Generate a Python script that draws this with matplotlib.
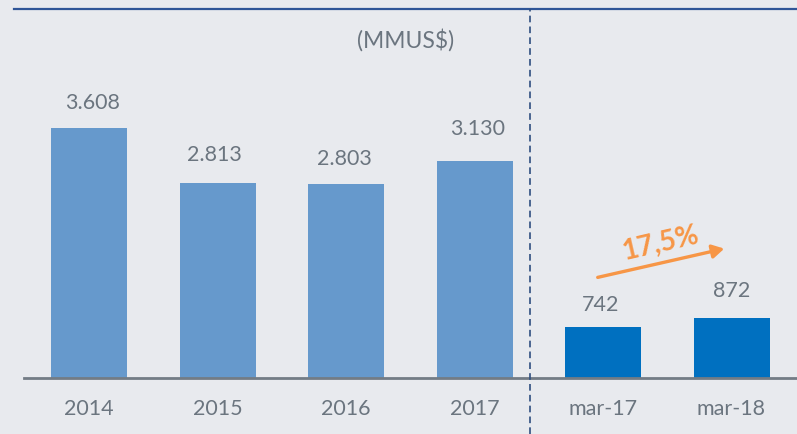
import numpy as np
import matplotlib.pyplot as plt
from matplotlib.lines import Line2D
from matplotlib.patches import FancyArrowPatch

# annual sales and first-quarter comparison (MMUS$)
categories = ['2014', '2015', '2016', '2017', 'mar-17', 'mar-18']
values = [3608, 2813, 2803, 3130, 742, 872]
growth_label = '17,5%'

# hand-placed value label offsets (pixels, dx/dy from bar top centre)
label_dx = [4, -3, -2, 3, -2, 0]
label_dy = [25, 28, 25, 32, 22, 27]

plt.rcParams['font.family'] = ['Lato', 'DejaVu Sans']

bg = '#E8EAEE'
light_blue = '#6699CC'
dark_blue = '#0070C0'
text_grey = '#6B757F'

W, H = 797, 434
fig = plt.figure(figsize=(W / 100, H / 100), dpi=100, facecolor=bg)

base_px = 378
ax = fig.add_axes([0, (H - base_px) / H, 1, base_px / H])
ax.set_facecolor(bg)
for s in ax.spines.values():
    s.set_visible(False)
ax.set_xticks([])
ax.set_yticks([])

px_per_unit = 250 / 3608
ax.set_ylim(0, base_px / px_per_unit)
step = 128.5
x0 = 89
ax.set_xlim(-x0 / step, (W - x0) / step)

x = np.arange(len(categories))
colors = [light_blue] * 4 + [dark_blue] * 2
ax.bar(x, values, width=76 / step, color=colors, zorder=2)

for xi, v, dx, dy in zip(x, values, label_dx, label_dy):
    lab = f'{v:,}'.replace(',', '.')
    ax.annotate(lab, (xi, v), xytext=(dx, dy), textcoords='offset pixels',
                ha='center', va='center', fontsize=15.5, color=text_grey)

# category labels below baseline
for xi, c in zip(x, categories):
    ax.annotate(c, (xi, 0), xytext=(0, -31), textcoords='offset pixels',
                ha='center', va='center', fontsize=15.5, color=text_grey,
                annotation_clip=False)

# baseline, top rule and separator between years and quarters
fig.add_artist(Line2D([24 / W, 1], [(H - base_px) / H] * 2, color='#737C85', lw=2))
fig.add_artist(Line2D([14 / W, 1], [(H - 9) / H] * 2, color='#2F5597', lw=1.6))
fig.add_artist(Line2D([530 / W] * 2, [0, (H - 9) / H], color='#2F4F80', lw=1.2,
                      ls=(0, (4, 2.5))))

fig.text(406 / W, (H - 40) / H, '(MMUS$)', ha='center', va='center',
         fontsize=16.5, color=text_grey)

# growth arrow between the quarters
orange = '#F79646'
fig.add_artist(FancyArrowPatch(
    (595 / W, (H - 278) / H), (727 / W, (H - 248) / H),
    transform=fig.transFigure, arrowstyle='-|>,head_length=7,head_width=4',
    color=orange, lw=2.4))
fig.text(660 / W, (H - 243) / H, growth_label, ha='center', va='center',
         fontsize=20, fontweight='bold', color=orange, rotation=13)

fig.savefig('out.png', dpi=100, facecolor=bg)
